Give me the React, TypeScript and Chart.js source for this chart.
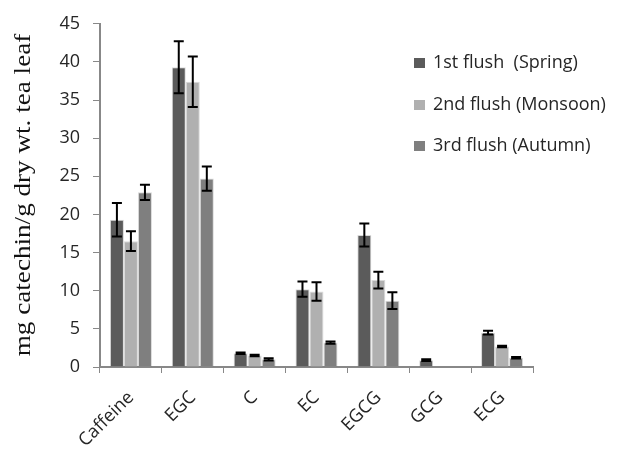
import React, { useEffect, useRef } from "react";
import { Chart, registerables } from "chart.js";

Chart.register(...registerables);

const categories = ["Caffeine", "EGC", "C", "EC", "EGCG", "GCG", "ECG"];
const seriesNames = ["1st flush  (Spring)", "2nd flush (Monsoon)", "3rd flush (Autumn)"];
const spring = [19.3, 39.3, 1.8, 10.2, 17.3, 0.9, 4.5];
const springErr = [2.2, 3.4, 0.1, 1.0, 1.5, 0.1, 0.25];
const monsoon = [16.5, 37.4, 1.5, 9.9, 11.4, 0, 2.7];
const monsoonErr = [1.3, 3.3, 0.1, 1.2, 1.1, 0, 0.1];
const autumn = [22.9, 24.7, 1.0, 3.2, 8.7, 0, 1.2];
const autumnErr = [1.0, 1.6, 0.15, 0.15, 1.1, 0, 0.1];
const colors = ["#5b5b5b", "#b0b0b0", "#7f7f7f"];
const yTicks = [0, 5, 10, 15, 20, 25, 30, 35, 40, 45];
const yTitle = "mg catechin/g dry wt. tea leaf";

const errors = [springErr, monsoonErr, autumnErr];

const errorBarPlugin = {
  id: "errorBars",
  afterDatasetsDraw(chart: any) {
    const ctx = chart.ctx;
    const y = chart.scales.y;
    ctx.save();
    ctx.strokeStyle = "#000";
    ctx.lineWidth = 2;
    chart.data.datasets.forEach((ds: any, di: number) => {
      const meta = chart.getDatasetMeta(di);
      meta.data.forEach((el: any, i: number) => {
        const e = errors[di][i];
        if (!e) return;
        const v = ds.data[i];
        const top = y.getPixelForValue(v + e);
        const bot = y.getPixelForValue(v - e);
        const x = el.x;
        ctx.beginPath();
        ctx.moveTo(x, top);
        ctx.lineTo(x, bot);
        ctx.moveTo(x - 5, top);
        ctx.lineTo(x + 5, top);
        ctx.moveTo(x - 5, bot);
        ctx.lineTo(x + 5, bot);
        ctx.stroke();
      });
    });
    ctx.restore();
  },
};

const titleAndLegendPlugin = {
  id: "customLegend",
  afterDraw(chart: any) {
    const ctx = chart.ctx;
    ctx.save();
    ctx.font = "18px 'Open Sans'";
    ctx.textBaseline = "middle";
    ctx.textAlign = "left";
    const rows = [63, 105, 146];
    seriesNames.forEach((name, i) => {
      ctx.fillStyle = colors[i];
      ctx.fillRect(414, rows[i] - 5, 11, 10);
      ctx.fillStyle = "#262626";
      ctx.fillText(name, 433, rows[i]);
    });
    ctx.restore();

    // y-axis title
    ctx.save();
    ctx.translate(24, 195);
    ctx.rotate(-Math.PI / 2);
    ctx.scale(1.18, 1);
    ctx.font = "23px 'Liberation Serif'";
    ctx.fillStyle = "#111";
    ctx.textAlign = "center";
    ctx.textBaseline = "middle";
    ctx.fillText(yTitle, 0, 0);
    ctx.restore();
  },
};

export default function App() {
  const ref = useRef<HTMLCanvasElement>(null);
  useEffect(() => {
    const data = [spring, monsoon, autumn];
    const chart = new Chart(ref.current!, {
      type: "bar",
      data: {
        labels: categories,
        datasets: seriesNames.map((n, i) => ({
          label: n,
          data: data[i],
          backgroundColor: colors[i],
          borderColor: "rgba(0,0,0,0.15)",
          borderWidth: 1,
          categoryPercentage: 0.68,
          barPercentage: 1,
        })),
      },
      options: {
        animation: false,
        responsive: false,
        layout: { padding: { left: 8, right: 94, top: 20, bottom: 0 } },
        plugins: { legend: { display: false }, tooltip: { enabled: false } },
        scales: {
          x: {
            grid: { offset: true, drawOnChartArea: false, drawTicks: true, tickLength: 6, color: "#888" },
            border: { color: "#888", width: 2 },
            ticks: {
              color: "#262626",
              font: { family: "'Open Sans'", size: 18 },
              maxRotation: 45,
              minRotation: 45,
              padding: 14,
            },
            afterFit: (s: any) => { s.height = 92; },
          },
          y: {
            min: 0,
            max: 45,
            grid: { drawOnChartArea: false, drawTicks: true, tickLength: 7, color: "#888" },
            border: { color: "#888", width: 2 },
            afterBuildTicks: (s: any) => { s.ticks = yTicks.map((v) => ({ value: v })); },
            ticks: {
              color: "#262626",
              font: { family: "'Open Sans'", size: 18 },
              padding: 13,
            },
            afterFit: (s: any) => { s.width = 92; },
          },
        },
      },
      plugins: [errorBarPlugin, titleAndLegendPlugin],
    });
    return () => chart.destroy();
  }, []);
  return (
    <div style={{ position: "fixed", left: 0, top: 0, width: 627, height: 459, background: "#fff" }}>
      <canvas ref={ref} width={627} height={459} aria-label={yTitle} />
    </div>
  );
}
